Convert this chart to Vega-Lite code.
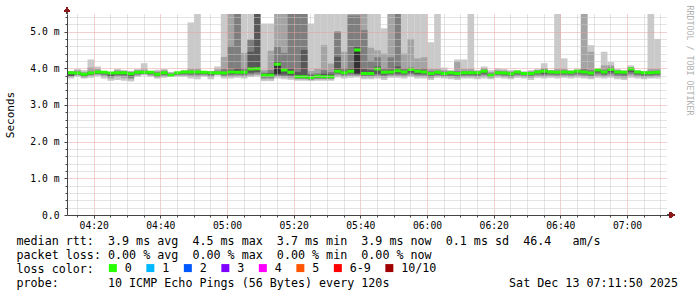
{
  "$schema": "https://vega.github.io/schema/vega-lite/v6.json",
  "width": 600,
  "height": 201,
  "autosize": {"type": "none"},
  "padding": {"left": 67, "top": 14, "right": 30, "bottom": 82},
  "background": "#ffffff",
  "config": {
    "view": {"stroke": null},
    "rect": {"binSpacing": 0, "strokeWidth": 0},
    "font": "DejaVu Sans Mono"
  },
  "data": {"values": [
{"m":252,"l1":3.72,"h1":3.93,"l2":3.76,"h2":3.92,"l3":3.78,"h3":3.9,"l4":3.79,"h4":3.89,"md":3.88},
{"m":254,"l1":3.77,"h1":3.98,"l2":3.8,"h2":3.95,"l3":3.82,"h3":3.91,"l4":3.84,"h4":3.89,"md":3.87},
{"m":256,"l1":3.72,"h1":3.95,"l2":3.75,"h2":3.9,"l3":3.77,"h3":3.87,"l4":3.79,"h4":3.86,"md":3.84},
{"m":258,"l1":3.74,"h1":4.24,"l2":3.79,"h2":4.02,"l3":3.82,"h3":3.91,"l4":3.84,"h4":3.89,"md":3.87},
{"m":260,"l1":3.78,"h1":4.05,"l2":3.82,"h2":3.98,"l3":3.84,"h3":3.93,"l4":3.86,"h4":3.92,"md":3.9},
{"m":262,"l1":3.72,"h1":3.93,"l2":3.78,"h2":3.92,"l3":3.82,"h3":3.91,"l4":3.85,"h4":3.9,"md":3.89},
{"m":264,"l1":3.66,"h1":3.9,"l2":3.72,"h2":3.89,"l3":3.76,"h3":3.88,"l4":3.79,"h4":3.88,"md":3.87},
{"m":266,"l1":3.68,"h1":3.98,"l2":3.76,"h2":3.95,"l3":3.8,"h3":3.91,"l4":3.83,"h4":3.9,"md":3.88},
{"m":268,"l1":3.66,"h1":3.95,"l2":3.73,"h2":3.93,"l3":3.79,"h3":3.91,"l4":3.83,"h4":3.9,"md":3.88},
{"m":270,"l1":3.64,"h1":3.93,"l2":3.7,"h2":3.91,"l3":3.74,"h3":3.89,"l4":3.77,"h4":3.87,"md":3.85},
{"m":272,"l1":3.77,"h1":3.98,"l2":3.8,"h2":3.95,"l3":3.83,"h3":3.92,"l4":3.85,"h4":3.91,"md":3.89},
{"m":274,"l1":3.81,"h1":4.14,"l2":3.83,"h2":3.97,"l3":3.85,"h3":3.92,"l4":3.86,"h4":3.91,"md":3.89},
{"m":276,"l1":3.77,"h1":3.93,"l2":3.8,"h2":3.92,"l3":3.83,"h3":3.91,"l4":3.85,"h4":3.9,"md":3.89},
{"m":278,"l1":3.72,"h1":3.96,"l2":3.75,"h2":3.92,"l3":3.77,"h3":3.89,"l4":3.79,"h4":3.87,"md":3.84},
{"m":280,"l1":3.74,"h1":3.98,"l2":3.78,"h2":3.95,"l3":3.81,"h3":3.91,"l4":3.84,"h4":3.9,"md":3.88},
{"m":282,"l1":3.77,"h1":3.9,"l2":3.79,"h2":3.88,"l3":3.8,"h3":3.85,"l4":3.8,"h4":3.83,"md":3.81},
{"m":284,"l1":3.77,"h1":3.9,"l2":3.8,"h2":3.89,"l3":3.82,"h3":3.89,"l4":3.84,"h4":3.89,"md":3.88},
{"m":286,"l1":3.77,"h1":3.95,"l2":3.8,"h2":3.93,"l3":3.83,"h3":3.92,"l4":3.86,"h4":3.91,"md":3.9},
{"m":288,"l1":3.72,"h1":5.25,"l2":3.78,"h2":3.98,"l3":3.82,"h3":3.93,"l4":3.86,"h4":3.92,"md":3.9},
{"m":290,"l1":3.7,"h1":6,"l2":3.77,"h2":3.98,"l3":3.82,"h3":3.93,"l4":3.86,"h4":3.92,"md":3.9},
{"m":292,"l1":3.77,"h1":3.93,"l2":3.8,"h2":3.92,"l3":3.83,"h3":3.91,"l4":3.85,"h4":3.9,"md":3.89},
{"m":294,"l1":3.7,"h1":3.93,"l2":3.76,"h2":3.92,"l3":3.8,"h3":3.9,"l4":3.83,"h4":3.89,"md":3.88},
{"m":296,"l1":3.8,"h1":4.05,"l2":3.82,"h2":3.97,"l3":3.84,"h3":3.91,"l4":3.85,"h4":3.9,"md":3.88},
{"m":298,"l1":3.72,"h1":6,"l2":3.77,"h2":4.31,"l3":3.8,"h3":3.98,"l4":3.83,"h4":3.9,"md":3.87},
{"m":300,"l1":3.72,"h1":6,"l2":3.77,"h2":6,"l3":3.81,"h3":4.61,"l4":3.85,"h4":3.95,"md":3.9},
{"m":302,"l1":3.74,"h1":6,"l2":3.78,"h2":6,"l3":3.82,"h3":6,"l4":3.85,"h4":4.0,"md":3.89},
{"m":304,"l1":3.72,"h1":6,"l2":3.77,"h2":4.42,"l3":3.81,"h3":4.0,"l4":3.85,"h4":3.93,"md":3.89},
{"m":306,"l1":3.76,"h1":6,"l2":3.8,"h2":4.8,"l3":3.84,"h3":4.77,"l4":3.88,"h4":4.45,"md":3.98},
{"m":308,"l1":3.78,"h1":6,"l2":3.82,"h2":6,"l3":3.86,"h3":6,"l4":3.9,"h4":6,"md":3.99},
{"m":310,"l1":3.65,"h1":5.22,"l2":3.7,"h2":3.95,"l3":3.74,"h3":3.88,"l4":3.77,"h4":3.85,"md":3.81},
{"m":312,"l1":3.65,"h1":5.22,"l2":3.7,"h2":4.48,"l3":3.74,"h3":3.95,"l4":3.77,"h4":3.87,"md":3.81},
{"m":314,"l1":3.72,"h1":6,"l2":3.77,"h2":6,"l3":3.8,"h3":4.59,"l4":3.83,"h4":4.2,"l5":3.85,"h5":4.13,"md":4.11},
{"m":316,"l1":3.7,"h1":6,"l2":3.75,"h2":6,"l3":3.79,"h3":4.42,"l4":3.83,"h4":4.0,"md":3.95},
{"m":318,"l1":3.68,"h1":6,"l2":3.73,"h2":6,"l3":3.77,"h3":6,"l4":3.81,"h4":4.0,"md":3.89},
{"m":320,"l1":3.66,"h1":6,"l2":3.7,"h2":6,"l3":3.72,"h3":6,"l4":3.74,"h4":3.9,"md":3.77},
{"m":322,"l1":3.66,"h1":6,"l2":3.7,"h2":6,"l3":3.72,"h3":6,"l4":3.74,"h4":4.5,"md":3.77},
{"m":324,"l1":3.65,"h1":5.22,"l2":3.68,"h2":3.93,"l3":3.7,"h3":3.85,"l4":3.72,"h4":3.8,"md":3.75},
{"m":326,"l1":3.66,"h1":6,"l2":3.7,"h2":3.98,"l3":3.72,"h3":3.86,"l4":3.75,"h4":3.82,"md":3.78},
{"m":328,"l1":3.66,"h1":6,"l2":3.7,"h2":4.63,"l3":3.72,"h3":3.95,"l4":3.74,"h4":3.85,"md":3.77},
{"m":330,"l1":3.66,"h1":6,"l2":3.7,"h2":4.13,"l3":3.72,"h3":3.9,"l4":3.74,"h4":3.84,"md":3.77},
{"m":332,"l1":3.75,"h1":6,"l2":3.8,"h2":5.0,"l3":3.84,"h3":5.0,"l4":3.87,"h4":4.31,"md":3.92},
{"m":334,"l1":3.72,"h1":6,"l2":3.77,"h2":4.45,"l3":3.81,"h3":4.0,"l4":3.84,"h4":3.92,"md":3.88},
{"m":336,"l1":3.74,"h1":6,"l2":3.79,"h2":6,"l3":3.83,"h3":5.44,"l4":3.87,"h4":4.0,"md":3.92},
{"m":338,"l1":3.75,"h1":6,"l2":3.79,"h2":6,"l3":3.82,"h3":5.44,"l4":3.85,"h4":4.6,"l5":3.86,"h5":4.5,"md":4.5},
{"m":340,"l1":3.7,"h1":6,"l2":3.75,"h2":6,"l3":3.79,"h3":5.04,"l4":3.82,"h4":3.98,"md":3.86},
{"m":342,"l1":3.7,"h1":6,"l2":3.75,"h2":4.56,"l3":3.79,"h3":4.2,"l4":3.82,"h4":3.95,"md":3.86},
{"m":344,"l1":3.72,"h1":6,"l2":3.77,"h2":4.49,"l3":3.81,"h3":4.3,"l4":3.85,"h4":4.05,"md":3.98},
{"m":346,"l1":3.68,"h1":5.09,"l2":3.74,"h2":4.4,"l3":3.79,"h3":4.0,"l4":3.83,"h4":3.93,"md":3.89},
{"m":348,"l1":3.74,"h1":6,"l2":3.78,"h2":6,"l3":3.82,"h3":4.3,"l4":3.85,"h4":3.96,"md":3.9},
{"m":350,"l1":3.74,"h1":6,"l2":3.78,"h2":6,"l3":3.82,"h3":6,"l4":3.86,"h4":4.05,"md":3.93},
{"m":352,"l1":3.72,"h1":6,"l2":3.77,"h2":4.4,"l3":3.81,"h3":4.0,"l4":3.85,"h4":3.94,"md":3.9},
{"m":354,"l1":3.76,"h1":6,"l2":3.8,"h2":4.8,"l3":3.84,"h3":4.02,"l4":3.88,"h4":3.99,"md":3.97},
{"m":356,"l1":3.72,"h1":6,"l2":3.77,"h2":4.27,"l3":3.81,"h3":3.98,"l4":3.85,"h4":3.95,"md":3.92},
{"m":358,"l1":3.72,"h1":6,"l2":3.77,"h2":4.3,"l3":3.81,"h3":4.0,"l4":3.85,"h4":3.94,"md":3.9},
{"m":360,"l1":3.68,"h1":4.71,"l2":3.73,"h2":3.98,"l3":3.77,"h3":3.92,"l4":3.81,"h4":3.89,"md":3.86},
{"m":362,"l1":3.74,"h1":6,"l2":3.78,"h2":3.98,"l3":3.81,"h3":3.93,"l4":3.84,"h4":3.91,"md":3.89},
{"m":364,"l1":3.72,"h1":4.02,"l2":3.76,"h2":3.95,"l3":3.79,"h3":3.91,"l4":3.82,"h4":3.89,"md":3.86},
{"m":366,"l1":3.7,"h1":3.95,"l2":3.75,"h2":3.93,"l3":3.79,"h3":3.91,"l4":3.83,"h4":3.9,"md":3.88},
{"m":368,"l1":3.68,"h1":4.24,"l2":3.73,"h2":4.18,"l3":3.77,"h3":3.92,"l4":3.81,"h4":3.89,"md":3.86},
{"m":370,"l1":3.72,"h1":4.24,"l2":3.76,"h2":3.98,"l3":3.8,"h3":3.92,"l4":3.83,"h4":3.9,"md":3.88},
{"m":372,"l1":3.72,"h1":6,"l2":3.76,"h2":3.98,"l3":3.8,"h3":3.92,"l4":3.83,"h4":3.9,"md":3.88},
{"m":374,"l1":3.7,"h1":3.95,"l2":3.75,"h2":3.93,"l3":3.79,"h3":3.91,"l4":3.83,"h4":3.9,"md":3.88},
{"m":376,"l1":3.72,"h1":4.05,"l2":3.77,"h2":4.0,"l3":3.82,"h3":3.96,"l4":3.86,"h4":3.94,"md":3.92},
{"m":378,"l1":3.7,"h1":3.95,"l2":3.74,"h2":3.9,"l3":3.77,"h3":3.86,"l4":3.79,"h4":3.84,"md":3.81},
{"m":380,"l1":3.74,"h1":4.0,"l2":3.78,"h2":3.95,"l3":3.82,"h3":3.91,"l4":3.85,"h4":3.9,"md":3.88},
{"m":382,"l1":3.72,"h1":3.98,"l2":3.76,"h2":3.94,"l3":3.8,"h3":3.91,"l4":3.83,"h4":3.89,"md":3.87},
{"m":384,"l1":3.7,"h1":3.95,"l2":3.74,"h2":3.92,"l3":3.78,"h3":3.89,"l4":3.81,"h4":3.87,"md":3.85},
{"m":386,"l1":3.74,"h1":3.95,"l2":3.78,"h2":3.93,"l3":3.82,"h3":3.92,"l4":3.86,"h4":3.91,"md":3.9},
{"m":388,"l1":3.72,"h1":3.92,"l2":3.76,"h2":3.9,"l3":3.8,"h3":3.89,"l4":3.83,"h4":3.88,"md":3.86},
{"m":390,"l1":3.68,"h1":3.95,"l2":3.74,"h2":3.92,"l3":3.78,"h3":3.89,"l4":3.82,"h4":3.88,"md":3.86},
{"m":392,"l1":3.74,"h1":3.98,"l2":3.78,"h2":3.95,"l3":3.82,"h3":3.93,"l4":3.86,"h4":3.92,"md":3.9},
{"m":394,"l1":3.72,"h1":4.14,"l2":3.77,"h2":4.0,"l3":3.81,"h3":3.97,"l4":3.85,"h4":3.95,"md":3.92},
{"m":396,"l1":3.74,"h1":3.95,"l2":3.78,"h2":3.94,"l3":3.82,"h3":3.93,"l4":3.86,"h4":3.92,"md":3.9},
{"m":398,"l1":3.72,"h1":6,"l2":3.77,"h2":3.98,"l3":3.81,"h3":3.93,"l4":3.85,"h4":3.91,"md":3.89},
{"m":400,"l1":3.74,"h1":4.27,"l2":3.78,"h2":3.98,"l3":3.82,"h3":3.94,"l4":3.86,"h4":3.92,"md":3.9},
{"m":402,"l1":3.72,"h1":3.95,"l2":3.77,"h2":3.93,"l3":3.81,"h3":3.92,"l4":3.85,"h4":3.91,"md":3.89},
{"m":404,"l1":3.74,"h1":3.98,"l2":3.79,"h2":3.96,"l3":3.83,"h3":3.95,"l4":3.87,"h4":3.94,"md":3.92},
{"m":406,"l1":3.72,"h1":6,"l2":3.77,"h2":6,"l3":3.81,"h3":3.98,"l4":3.85,"h4":3.93,"md":3.9},
{"m":408,"l1":3.7,"h1":4.63,"l2":3.75,"h2":4.45,"l3":3.79,"h3":3.95,"l4":3.83,"h4":3.9,"md":3.87},
{"m":410,"l1":3.74,"h1":3.98,"l2":3.79,"h2":3.97,"l3":3.84,"h3":3.97,"l4":3.89,"h4":3.96,"md":3.95},
{"m":412,"l1":3.72,"h1":4.45,"l2":3.77,"h2":4.08,"l3":3.81,"h3":3.96,"l4":3.85,"h4":3.93,"md":3.9},
{"m":414,"l1":3.74,"h1":4.17,"l2":3.79,"h2":4.08,"l3":3.84,"h3":4.02,"l4":3.89,"h4":4.0,"md":3.97},
{"m":416,"l1":3.7,"h1":3.98,"l2":3.75,"h2":3.95,"l3":3.8,"h3":3.93,"l4":3.85,"h4":3.92,"md":3.9},
{"m":418,"l1":3.68,"h1":3.95,"l2":3.74,"h2":3.93,"l3":3.79,"h3":3.92,"l4":3.84,"h4":3.91,"md":3.89},
{"m":420,"l1":3.74,"h1":4.08,"l2":3.8,"h2":4.03,"l3":3.85,"h3":4.01,"l4":3.9,"h4":4.0,"md":3.98},
{"m":422,"l1":3.72,"h1":3.95,"l2":3.77,"h2":3.93,"l3":3.81,"h3":3.92,"l4":3.85,"h4":3.92,"md":3.9},
{"m":424,"l1":3.7,"h1":3.93,"l2":3.75,"h2":3.91,"l3":3.79,"h3":3.9,"l4":3.83,"h4":3.9,"md":3.88},
{"m":426,"l1":3.72,"h1":6,"l2":3.76,"h2":3.98,"l3":3.8,"h3":3.92,"l4":3.83,"h4":3.9,"md":3.88},
{"m":428,"l1":3.72,"h1":4.8,"l2":3.77,"h2":3.98,"l3":3.81,"h3":3.93,"l4":3.85,"h4":3.91,"md":3.89}
  ]},
  "resolve": {"axis": {"x": "independent", "y": "independent"}},
  "layer": [
    {
      "mark": {"type": "rect", "color": "#cacaca", "clip": true},
      "encoding": {
        "x": {"field": "m", "type": "quantitative", "bin": {"step": 2, "extent": [252, 432]},
              "scale": {"domain": [252, 432], "nice": false, "zero": false},
              "axis": {"orient": "bottom", "values": [255,265,270,275,285,290,295,305,310,315,325,330,335,345,350,355,365,370,375,385,390,395,405,410,415,425,430],
                       "grid": true, "gridColor": "#c8c8c8", "gridDash": [1, 1], "gridOpacity": 1,
                       "labels": false, "ticks": true, "tickSize": 2, "tickColor": "#444444", "domain": false, "title": null, "zindex": 1}},
        "y": {"field": "l1", "type": "quantitative",
              "scale": {"domain": [0, 5.48], "nice": false, "zero": true},
              "axis": {"orient": "left", "values": [0.2,0.4,0.6,0.8,1.2,1.4,1.6,1.8,2.2,2.4,2.6,2.8,3.2,3.4,3.6,3.8,4.2,4.4,4.6,4.8,5.2,5.4],
                       "grid": true, "gridColor": "#c8c8c8", "gridDash": [1, 1], "gridOpacity": 1,
                       "labels": false, "ticks": true, "tickSize": 2, "tickColor": "#444444", "domain": false, "title": null, "zindex": 1}},
        "y2": {"field": "h1"}
      }
    },
    {
      "mark": {"type": "rect", "color": "#a4a4a4", "clip": true},
      "encoding": {
        "x": {"field": "m", "type": "quantitative", "bin": {"step": 2, "extent": [252, 432]},
              "axis": {"orient": "bottom", "values": [260,280,300,320,340,360,380,400,420],
                       "grid": true, "gridColor": "#e8a0a0", "gridDash": [1, 1], "gridOpacity": 1,
                       "labelExpr": "(floor(datum.value/60) < 10 ? '0' : '') + floor(datum.value/60) + ':' + (datum.value % 60 < 10 ? '0' : '') + (datum.value % 60)",
                       "labelFont": "DejaVu Sans Mono", "labelFontSize": 9.7, "labelColor": "#000000", "labelPadding": 2,
                       "ticks": true, "tickSize": 3, "tickColor": "#444444",
                       "domain": true, "domainColor": "#444444", "zindex": 1,
                       "title": [
      "median\u00a0rtt:\u00a0\u00a03.9\u00a0ms\u00a0avg\u00a0\u00a04.5\u00a0ms\u00a0max\u00a0\u00a03.7\u00a0ms\u00a0min\u00a0\u00a03.9\u00a0ms\u00a0now\u00a0\u00a00.1\u00a0ms\u00a0sd\u00a0\u00a046.4\u00a0\u00a0\u00a0am/s",
      "packet\u00a0loss:\u00a00.00\u00a0%\u00a0avg\u00a0\u00a00.00\u00a0%\u00a0max\u00a0\u00a00.00\u00a0%\u00a0min\u00a0\u00a00.00\u00a0%\u00a0now",
      "loss\u00a0color:",
      "probe:\u00a0\u00a0\u00a0\u00a0\u00a0\u00a0\u00a010\u00a0ICMP\u00a0Echo\u00a0Pings\u00a0(56\u00a0Bytes)\u00a0every\u00a0120s\u00a0\u00a0\u00a0\u00a0\u00a0\u00a0\u00a0\u00a0\u00a0\u00a0\u00a0\u00a0\u00a0\u00a0\u00a0\u00a0\u00a0Sat\u00a0Dec\u00a013\u00a007:11:50\u00a02025"
                       ],
                       "titleFont": "DejaVu Sans Mono", "titleFontSize": 11.7, "titleFontWeight": "normal", "titleColor": "#000000",
                       "titleAlign": "left", "titleAnchor": "start", "titleBaseline": "top", "titleX": -51, "titleY": 20, "titleLineHeight": 14}},
        "y": {"field": "l2", "type": "quantitative",
              "axis": {"orient": "left", "values": [0,1,2,3,4,5],
                       "grid": true, "gridColor": "#e8a0a0", "gridDash": [1, 1],
                       "gridOpacity": {"condition": {"test": "datum.value == 0", "value": 0}, "value": 1},
                       "labelExpr": "datum.value == 0 ? '0.0' : format(datum.value, '.1f') + ' m'",
                       "labelFont": "DejaVu Sans Mono", "labelFontSize": 9.7, "labelColor": "#000000", "labelPadding": 5,
                       "ticks": true, "tickSize": 3, "tickColor": "#444444",
                       "domain": true, "domainColor": "#444444",
                       "title": "Seconds", "titleFont": "DejaVu Sans Mono", "titleFontSize": 11, "titleFontWeight": "normal",
                       "titleColor": "#000000", "titleX": -57, "titleBaseline": "middle", "zindex": 1}},
        "y2": {"field": "h2"}
      }
    },
    {
      "mark": {"type": "rect", "color": "#7e7e7e", "clip": true},
      "encoding": {
        "x": {"field": "m", "type": "quantitative", "bin": {"step": 2, "extent": [252, 432]}, "axis": null},
        "y": {"field": "l3", "type": "quantitative",
              "axis": {"orient": "right", "title": "RRDTOOL / TOBI OETIKER", "labels": false, "ticks": false, "domain": false, "grid": false,
                       "titleAngle": 90, "titleX": 21, "titleY": 46, "titleAlign": "center", "titleBaseline": "middle",
                       "titleFont": "DejaVu Sans Mono", "titleFontSize": 8.3, "titleFontWeight": "normal", "titleColor": "#b0b0b0"}},
        "y2": {"field": "h3"}
      }
    },
    {
      "mark": {"type": "rect", "color": "#585858", "clip": true},
      "encoding": {
        "x": {"field": "m", "type": "quantitative", "bin": {"step": 2, "extent": [252, 432]}, "axis": null},
        "y": {"field": "l4", "type": "quantitative", "axis": null},
        "y2": {"field": "h4"}
      }
    },
    {
      "mark": {"type": "rect", "color": "#323232", "clip": true},
      "encoding": {
        "x": {"field": "m", "type": "quantitative", "bin": {"step": 2, "extent": [252, 432]}, "axis": null},
        "y": {"field": "l5", "type": "quantitative", "axis": null},
        "y2": {"field": "h5"}
      }
    },
    {
      "mark": {"type": "rect", "stroke": "#26ff00", "strokeWidth": 3, "clip": true},
      "encoding": {
        "x": {"field": "m", "type": "quantitative", "bin": {"step": 2, "extent": [252, 432]}, "axis": null},
        "y": {"field": "md", "type": "quantitative", "axis": null},
        "y2": {"field": "md"},
        "color": {"datum": "0", "type": "nominal",
                  "scale": {"domain": ["0","1","2","3","4","5","6-9","10/10"],
                            "range": ["#26ff00","#00b8ff","#0059ff","#7e00ff","#ff00ff","#ff5500","#ff0000","#a10000"]},
                  "legend": {"orient": "none", "legendX": 40, "legendY": 248, "direction": "horizontal", "columns": 8,
                             "title": null, "symbolType": "square", "symbolSize": 64, "symbolStrokeColor": "#000000",
                             "symbolStrokeWidth": 1, "symbolOpacity": 1, "labelFont": "DejaVu Sans Mono", "labelFontSize": 11.7,
                             "labelColor": "#000000", "labelOffset": 6, "columnPadding": 12.5, "padding": 0}}
      }
    },
    {
      "mark": {"type": "rule", "color": "#444444"},
      "encoding": {
        "x": {"datum": 252, "type": "quantitative", "axis": null},
        "y": {"datum": 5.48, "type": "quantitative", "axis": null},
        "y2": {"datum": 5.57}
      }
    },
    {
      "mark": {"type": "rule", "color": "#444444"},
      "encoding": {
        "x": {"datum": 432, "type": "quantitative", "axis": null},
        "x2": {"datum": 433.5},
        "y": {"datum": 0, "type": "quantitative", "axis": null}
      }
    },
    {
      "mark": {"type": "point", "shape": "triangle-up", "filled": true, "color": "#8b1a1a", "size": 30, "opacity": 1},
      "encoding": {
        "x": {"datum": 252, "type": "quantitative", "axis": null},
        "y": {"datum": 5.6, "type": "quantitative", "axis": null}
      }
    },
    {
      "mark": {"type": "point", "shape": "triangle-right", "filled": true, "color": "#8b1a1a", "size": 30, "opacity": 1},
      "encoding": {
        "x": {"datum": 433.6, "type": "quantitative", "axis": null},
        "y": {"datum": 0, "type": "quantitative", "axis": null}
      }
    }
  ]
}
